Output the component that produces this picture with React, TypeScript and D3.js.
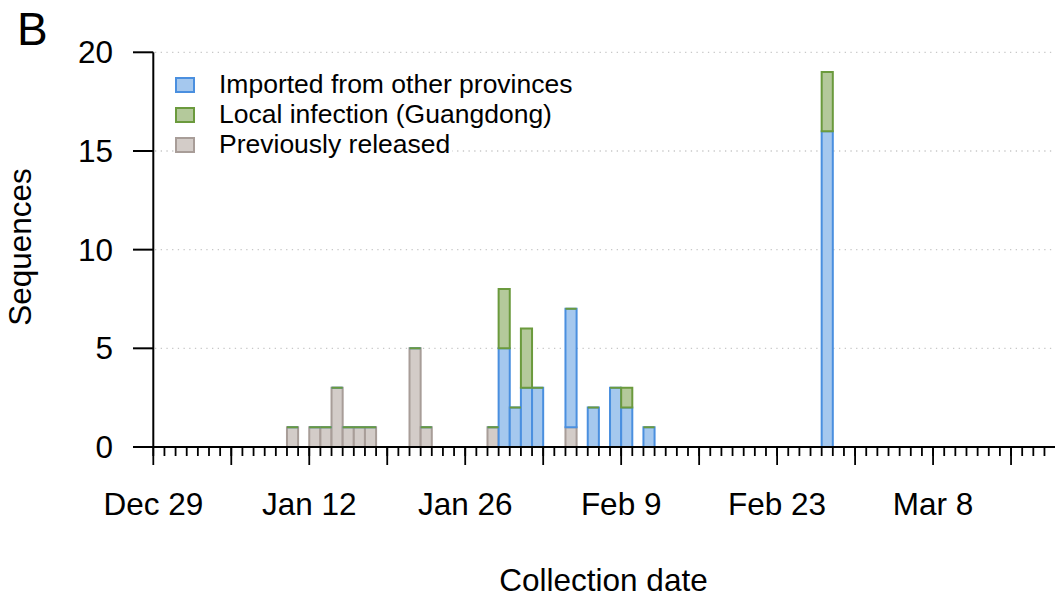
import React, { useEffect, useRef } from "react";
import * as d3 from "d3";

const collectionDates = [
  "2020-01-10", "2020-01-12", "2020-01-13", "2020-01-14", "2020-01-15",
  "2020-01-16", "2020-01-17", "2020-01-21", "2020-01-22", "2020-01-28",
  "2020-01-29", "2020-01-30", "2020-01-31", "2020-02-01", "2020-02-04",
  "2020-02-06", "2020-02-08", "2020-02-09", "2020-02-11", "2020-02-27",
];
const previouslyReleased = [1, 1, 1, 3, 1, 1, 1, 5, 1, 1, 0, 0, 0, 0, 1, 0, 0, 0, 0, 0];
const importedOther = [0, 0, 0, 0, 0, 0, 0, 0, 0, 0, 5, 2, 3, 3, 6, 2, 3, 2, 1, 16];
const localInfection = [0, 0, 0, 0, 0, 0, 0, 0, 0, 0, 3, 0, 3, 0, 0, 0, 0, 1, 0, 3];

const seriesKeys = ["prev", "imported", "local"];
const legendLabels = ["Imported from other provinces", "Local infection (Guangdong)", "Previously released"];
const legendKeys = ["imported", "local", "prev"];
const yTicks = [0, 5, 10, 15, 20];
const xLabelTicks = ["Dec 29", "Jan 12", "Jan 26", "Feb 9", "Feb 23", "Mar 8"];

const FILL: Record<string, string> = { imported: "#a5c8ee", local: "#b4c99b", prev: "#d3ccc8" };
const STROKE: Record<string, string> = { imported: "#4a8fdf", local: "#6b9a3d", prev: "#a89d98" };

const FONT = "'Liberation Sans', Arial, Helvetica, sans-serif";
const AXIS_FS = 31.5;

export default function App() {
  const ref = useRef<SVGSVGElement>(null);

  useEffect(() => {
    const svg = d3.select(ref.current);
    svg.selectAll("*").remove();

    const parse = d3.utcParse("%Y-%m-%d");
    const start = new Date(Date.UTC(2019, 11, 29));
    const end = new Date(Date.UTC(2020, 2, 19));
    const x = d3.scaleUtc().domain([start, end]).range([153.3, 1055.6]);
    const y = d3.scaleLinear().domain([0, 20]).range([447, 52.3]);

    const rows = collectionDates.map((d, i) => ({
      date: parse(d) as Date,
      prev: previouslyReleased[i],
      imported: importedOther[i],
      local: localInfection[i],
    }));

    // grid
    svg.append("g")
      .selectAll("line")
      .data(yTicks.filter((t) => t > 0))
      .join("line")
      .attr("x1", 155)
      .attr("x2", 1055)
      .attr("y1", (d) => y(d))
      .attr("y2", (d) => y(d))
      .attr("stroke", "#c8c8c8")
      .attr("stroke-width", 1.3)
      .attr("stroke-dasharray", "1.3,4.4");

    // bars (paths so that zero-height segments still draw their outline)
    const stack = d3.stack<any>().keys(seriesKeys);
    const stacked = stack(rows);
    const barG = svg.append("g");
    stacked.forEach((s) => {
      barG.append("g")
        .selectAll("path")
        .data(s)
        .join("path")
        .attr("d", (d: any) => {
          const x0 = x(d.data.date);
          const x1 = x(d3.utcDay.offset(d.data.date, 1));
          const y0 = y(d[0]);
          const y1 = y(d[1]);
          return `M${x0},${y0}H${x1}V${y1}H${x0}Z`;
        })
        .attr("fill", FILL[s.key])
        .attr("stroke", STROKE[s.key])
        .attr("stroke-width", 2);
    });

    // x axis
    const xAxisY = 447;
    svg.append("line")
      .attr("x1", 133).attr("x2", 1055)
      .attr("y1", xAxisY).attr("y2", xAxisY)
      .attr("stroke", "#000").attr("stroke-width", 2);
    const days = d3.utcDay.range(start, end);
    svg.append("g").selectAll("line").data(days).join("line")
      .attr("x1", (d) => x(d)).attr("x2", (d) => x(d))
      .attr("y1", xAxisY).attr("y2", xAxisY + 9)
      .attr("stroke", "#000").attr("stroke-width", 1.8);
    const weeks = d3.utcSunday.range(start, end);
    svg.append("g").selectAll("line").data(weeks).join("line")
      .attr("x1", (d) => x(d)).attr("x2", (d) => x(d))
      .attr("y1", xAxisY).attr("y2", xAxisY + 18)
      .attr("stroke", "#000").attr("stroke-width", 1.8);
    const fmt = d3.utcFormat("%b %-d");
    const labelDates = weeks.filter((d) => xLabelTicks.includes(fmt(d)));
    svg.append("g").selectAll("text").data(labelDates).join("text")
      .attr("x", (d) => x(d)).attr("y", 515)
      .attr("text-anchor", "middle")
      .attr("font-family", FONT).attr("font-size", AXIS_FS)
      .text((d) => fmt(d));

    // y axis
    svg.append("line")
      .attr("x1", 153.3).attr("x2", 153.3)
      .attr("y1", y(20)).attr("y2", y(0))
      .attr("stroke", "#000").attr("stroke-width", 2);
    svg.append("g").selectAll("line").data(yTicks).join("line")
      .attr("x1", 133).attr("x2", 153.3)
      .attr("y1", (d) => y(d)).attr("y2", (d) => y(d))
      .attr("stroke", "#000").attr("stroke-width", 2);
    svg.append("g").selectAll("text").data(yTicks).join("text")
      .attr("x", 113).attr("y", (d) => y(d) + 11)
      .attr("text-anchor", "end")
      .attr("font-family", FONT).attr("font-size", AXIS_FS)
      .text((d) => String(d));

    // titles
    svg.append("text")
      .attr("x", 603.5).attr("y", 591)
      .attr("text-anchor", "middle")
      .attr("font-family", FONT).attr("font-size", AXIS_FS)
      .text("Collection date");
    svg.append("text")
      .attr("transform", "translate(31,247) rotate(-90)")
      .attr("text-anchor", "middle")
      .attr("font-family", FONT).attr("font-size", AXIS_FS)
      .text("Sequences");
    svg.append("text")
      .attr("x", 17).attr("y", 45)
      .attr("font-family", FONT).attr("font-size", 46)
      .text("B");

    // legend
    const lg = svg.append("g");
    legendKeys.forEach((k, i) => {
      const row = lg.append("g").attr("transform", `translate(0,${i * 30})`);
      const bg = row.append("rect").attr("fill", "#fff");
      row.append("rect")
        .attr("x", 176).attr("y", 78)
        .attr("width", 18).attr("height", 14)
        .attr("fill", FILL[k]).attr("stroke", STROKE[k]).attr("stroke-width", 2);
      const t = row.append("text")
        .attr("x", 219).attr("y", 93)
        .attr("font-family", FONT).attr("font-size", 26.5)
        .text(legendLabels[i]);
      const w = (t.node() as SVGTextElement).getComputedTextLength();
      bg.attr("x", 175).attr("y", 72).attr("width", 219 + w - 175 + 2).attr("height", 27);
    });
  }, []);

  return (
    <svg
      ref={ref}
      width={1055}
      height={600}
      style={{ position: "absolute", left: 0, top: 0, background: "#fff" }}
    />
  );
}
